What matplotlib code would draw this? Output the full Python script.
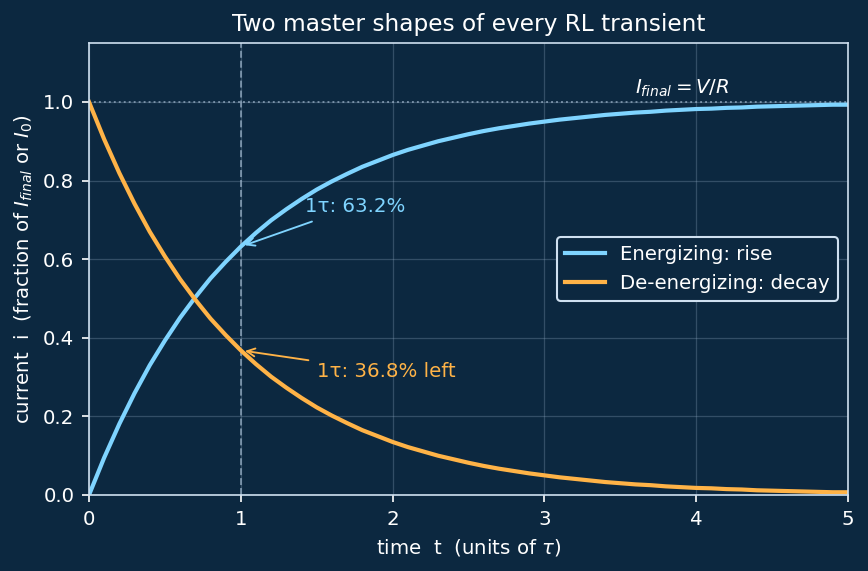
import numpy as np
import matplotlib
matplotlib.use("Agg")
import matplotlib.pyplot as plt

# time in units of tau, sampled every 0.1
t = np.round(np.arange(51) * 0.1, 1)

# energizing current, fraction of I_final
rise = [0.000, 0.095, 0.181, 0.259, 0.330, 0.393, 0.451, 0.503, 0.551, 0.593,
        0.632, 0.667, 0.699, 0.727, 0.753, 0.777, 0.798, 0.817, 0.835, 0.850,
        0.865, 0.878, 0.889, 0.900, 0.909, 0.918, 0.926, 0.933, 0.939, 0.945,
        0.950, 0.955, 0.959, 0.963, 0.967, 0.970, 0.973, 0.975, 0.978, 0.980,
        0.982, 0.983, 0.985, 0.986, 0.988, 0.989, 0.990, 0.991, 0.992, 0.993,
        0.993]

# de-energizing current, fraction of I_0
decay = [1.000, 0.905, 0.819, 0.741, 0.670, 0.607, 0.549, 0.497, 0.449, 0.407,
         0.368, 0.333, 0.301, 0.273, 0.247, 0.223, 0.202, 0.183, 0.165, 0.150,
         0.135, 0.122, 0.111, 0.100, 0.091, 0.082, 0.074, 0.067, 0.061, 0.055,
         0.050, 0.045, 0.041, 0.037, 0.033, 0.030, 0.027, 0.025, 0.022, 0.020,
         0.018, 0.017, 0.015, 0.014, 0.012, 0.011, 0.010, 0.009, 0.008, 0.007,
         0.007]

bg = '#0c2840'
fg = '#ffffff'
edge = '#cfe0f0'
c_rise = '#7fd4ff'
c_decay = '#ffb347'

fig, ax = plt.subplots(figsize=(868/150, 571/150), dpi=150)
fig.patch.set_facecolor(bg)
ax.set_facecolor(bg)

ax.grid(True, color='#8fa8c0', alpha=0.3, linewidth=0.6)
ax.axvline(1, color='#9fb6cc', linestyle='--', linewidth=0.9, alpha=0.7)
ax.axhline(1.0, color='#9fb6cc', linestyle=':', linewidth=0.9, alpha=0.7)

ax.plot(t, rise, color=c_rise, lw=2.0, label='Energizing: rise')
ax.plot(t, decay, color=c_decay, lw=2.0, label='De-energizing: decay')

ax.annotate('1τ: 63.2%', xy=(1, rise[10]), xytext=(1.42, 0.72),
            color=c_rise, fontsize=9.5,
            arrowprops=dict(arrowstyle='->', color=c_rise, lw=0.9))
ax.annotate('1τ: 36.8% left', xy=(1, decay[10]), xytext=(1.5, 0.30),
            color=c_decay, fontsize=9.5,
            arrowprops=dict(arrowstyle='->', color=c_decay, lw=0.9))
ax.text(3.6, 1.02, r'$I_{final} = V/R$', color=fg, fontsize=9.5)

ax.set_xlim(0, 5)
ax.set_ylim(0, 1.15)
ax.set_yticks([0, 0.2, 0.4, 0.6, 0.8, 1.0])
ax.set_title('Two master shapes of every RL transient', color=fg, fontsize=11.2)
ax.set_xlabel(r'time  t  (units of $\tau$)', color=fg, fontsize=9.5)
ax.set_ylabel(r'current  i  (fraction of $I_{final}$ or $I_0$)', color=fg, fontsize=9.5)
ax.tick_params(colors=fg, labelsize=9.5)
for s in ax.spines.values():
    s.set_color(edge)

leg = ax.legend(loc='center right', fontsize=9.5, facecolor=bg, edgecolor=edge,
                labelcolor=fg, framealpha=1)

fig.subplots_adjust(left=89/868, right=848/868, top=1-43/571, bottom=1-495/571)
fig.savefig('out.png', dpi=150, facecolor=bg)
